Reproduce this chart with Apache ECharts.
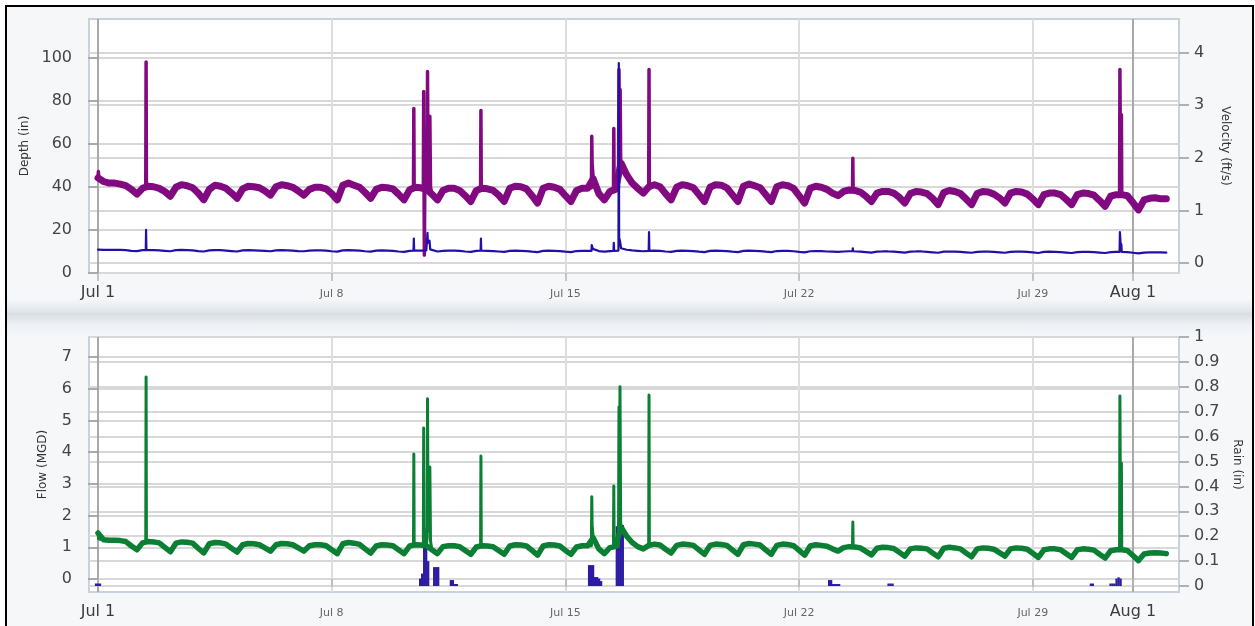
<!DOCTYPE html>
<html>
<head>
<meta charset="utf-8">
<script src="https://cdn.jsdelivr.net/npm/echarts@6/dist/echarts.min.js"></script>
<style>
  html, body { margin: 0; padding: 0; background: #fff; }
  #frame {
    position: absolute; left: 5px; top: 5px; width: 1245px; height: 640px;
    border: 2.5px solid #000;
    background: linear-gradient(to bottom, #f5f7f9 0px, #f5f7f9 292px, #e2e6eb 304px, #d9dee4 307px, #eef1f4 318px, #f5f7f9 330px);
  }
  #chart { position: absolute; left: 0; top: 0; width: 1255px; height: 626px; }
</style>
</head>
<body>
<div id="frame"></div>
<div id="chart"></div>
<script>
// x values are days after Jul 1 00:00, base series are sampled every 4 hours
var xTickDays = [0, 7, 14, 21, 28, 31];
var xTickLabels = ['Jul 1', 'Jul 8', 'Jul 15', 'Jul 22', 'Jul 29', 'Aug 1'];
var xTickMajor = [true, false, false, false, false, true];

var depthTicks = [0, 20, 40, 60, 80, 100];
var velocityTicks = [0, 1, 2, 3, 4];
var flowTicks = [0, 1, 2, 3, 4, 5, 6, 7];
var rainTicks = [0, 0.1, 0.2, 0.3, 0.4, 0.5, 0.6, 0.7, 0.8, 0.9, 1];

// velocity (ft/s), 6 readings per day
var velocityBase = [
  1.62,1.55,1.52,1.52,1.50,1.47,
  1.40,1.31,1.42,1.46,1.45,1.42,
  1.36,1.27,1.44,1.49,1.47,1.43,
  1.33,1.20,1.40,1.48,1.46,1.42,
  1.33,1.23,1.41,1.46,1.45,1.43,
  1.37,1.29,1.45,1.49,1.47,1.44,
  1.37,1.29,1.40,1.44,1.44,1.41,
  1.32,1.20,1.48,1.52,1.48,1.44,
  1.34,1.23,1.40,1.44,1.43,1.41,
  1.31,1.20,1.39,1.44,1.43,1.40,
  1.31,1.20,1.38,1.42,1.42,1.38,
  1.28,1.17,1.38,1.42,1.41,1.38,
  1.29,1.17,1.42,1.46,1.45,1.41,
  1.28,1.14,1.42,1.46,1.44,1.40,
  1.28,1.17,1.38,1.42,1.42,1.60,
  1.32,1.20,1.36,1.40,1.90,1.68,
  1.52,1.42,1.33,1.45,1.49,1.45,
  1.32,1.20,1.44,1.49,1.47,1.43,
  1.30,1.17,1.44,1.49,1.48,1.43,
  1.30,1.17,1.46,1.50,1.47,1.43,
  1.30,1.17,1.45,1.49,1.47,1.42,
  1.28,1.14,1.42,1.46,1.44,1.40,
  1.33,1.28,1.36,1.39,1.38,1.35,
  1.27,1.17,1.33,1.36,1.36,1.33,
  1.25,1.14,1.32,1.36,1.35,1.32,
  1.23,1.11,1.34,1.38,1.36,1.32,
  1.22,1.11,1.32,1.36,1.35,1.31,
  1.24,1.14,1.33,1.36,1.35,1.31,
  1.22,1.11,1.30,1.33,1.33,1.30,
  1.21,1.11,1.30,1.33,1.32,1.29,
  1.19,1.08,1.27,1.30,1.30,1.28,
  1.15,1.01,1.20,1.23,1.24,1.22,
  1.22
];
var velocitySpikes = [
  [0.01,1.74],[0.03,1.58],
  [1.43,1.46],[1.44,3.82],[1.45,1.46],
  [9.45,1.42],[9.46,2.94],[9.47,1.42],
  [9.745,1.42],[9.755,3.26],[9.765,1.6],[9.775,0.15],[9.79,1.5],
  [9.86,1.45],[9.87,3.64],[9.885,1.6],[9.93,1.55],[9.94,2.79],[9.96,1.45],
  [11.46,1.42],[11.47,2.9],[11.48,1.45],
  [14.78,1.43],[14.79,2.41],[14.80,1.9],
  [15.44,1.40],[15.45,2.56],[15.46,1.42],
  [15.59,1.42],[15.605,3.68],[15.62,2.4],[15.64,3.3],[15.655,2.0],
  [16.495,1.48],[16.505,3.68],[16.515,1.48],
  [22.60,1.38],[22.61,1.99],[22.62,1.38],
  [30.60,1.30],[30.61,3.68],[30.63,1.6],[30.655,2.82],[30.665,1.30]
];

// depth (in), 6 readings per day
var depthBase = [
  10.9,10.7,10.7,10.8,10.7,10.6,
  10.3,10.2,10.6,10.7,10.6,10.5,
  10.3,10.1,10.6,10.7,10.6,10.5,
  10.2,10.0,10.5,10.6,10.6,10.4,
  10.2,10.0,10.5,10.6,10.5,10.4,
  10.3,10.1,10.5,10.6,10.5,10.4,
  10.2,10.1,10.4,10.5,10.5,10.4,
  10.1,9.9,10.5,10.6,10.5,10.4,
  10.1,9.9,10.4,10.5,10.4,10.3,
  10.0,9.8,10.3,10.4,10.4,10.5,
  10.2,10.0,10.3,10.4,10.4,10.3,
  10.0,9.8,10.3,10.4,10.3,10.2,
  10.0,9.8,10.3,10.4,10.3,10.2,
  9.9,9.7,10.3,10.4,10.3,10.2,
  9.9,9.7,10.2,10.3,10.3,10.6,
  10.2,9.9,10.2,10.3,11.5,10.8,
  10.5,10.3,10.1,10.3,10.4,10.3,
  10.0,9.8,10.3,10.4,10.3,10.2,
  9.9,9.7,10.3,10.4,10.3,10.2,
  9.9,9.7,10.3,10.4,10.3,10.2,
  9.9,9.7,10.2,10.3,10.3,10.1,
  9.8,9.6,10.1,10.2,10.2,10.0,
  9.9,9.8,10.0,10.1,10.1,9.9,
  9.7,9.5,9.9,10.0,10.0,9.9,
  9.7,9.5,9.9,10.0,10.0,9.8,
  9.6,9.4,9.9,10.0,9.9,9.8,
  9.6,9.4,9.8,9.9,9.9,9.8,
  9.6,9.4,9.8,9.9,9.9,9.8,
  9.6,9.3,9.8,9.9,9.8,9.7,
  9.5,9.3,9.7,9.8,9.8,9.7,
  9.5,9.3,9.7,9.8,9.8,9.7,
  9.4,9.1,9.5,9.6,9.6,9.6,
  9.5
];
var depthSpikes = [
  [1.43,10.6],[1.44,20],[1.45,10.6],
  [9.45,10.4],[9.46,16],[9.47,10.4],
  [9.86,10.4],[9.87,18.6],[9.88,14],[9.93,15],[9.95,11],
  [11.46,10.4],[11.47,16],[11.48,10.4],
  [14.78,10.3],[14.79,13],[14.82,11.2],
  [15.44,10.3],[15.45,14],[15.46,10.3],
  [15.59,10.4],[15.60,97.5],[15.61,16.5],[15.64,14.5],
  [16.495,10.3],[16.505,19],[16.515,10.3],
  [22.60,10.1],[22.61,11.5],[22.62,10.1],
  [30.60,9.8],[30.61,19],[30.63,14],[30.655,13],[30.665,9.8]
];

// flow (MGD), 6 readings per day
var flowBase = [
  1.45,1.24,1.22,1.22,1.21,1.18,
  1.04,0.92,1.14,1.18,1.17,1.14,
  1.00,0.86,1.13,1.17,1.16,1.13,
  0.97,0.82,1.11,1.15,1.14,1.10,
  0.97,0.85,1.08,1.12,1.11,1.08,
  0.98,0.88,1.08,1.12,1.11,1.08,
  0.98,0.88,1.05,1.08,1.08,1.05,
  0.92,0.80,1.11,1.15,1.13,1.09,
  0.95,0.82,1.04,1.08,1.07,1.05,
  0.92,0.80,1.04,1.08,1.07,1.05,
  0.92,0.80,1.02,1.05,1.05,1.02,
  0.90,0.78,1.01,1.05,1.04,1.02,
  0.90,0.78,1.04,1.08,1.07,1.04,
  0.90,0.75,1.04,1.08,1.07,1.04,
  0.90,0.78,1.01,1.05,1.05,1.30,
  0.95,0.80,0.99,1.02,1.64,1.35,
  1.15,1.02,0.95,1.06,1.10,1.07,
  0.94,0.82,1.06,1.10,1.09,1.06,
  0.92,0.78,1.06,1.10,1.09,1.06,
  0.92,0.78,1.08,1.12,1.10,1.07,
  0.92,0.78,1.06,1.10,1.09,1.05,
  0.90,0.75,1.04,1.08,1.06,1.03,
  0.95,0.88,0.99,1.02,1.01,0.98,
  0.87,0.76,0.97,1.00,0.99,0.96,
  0.84,0.72,0.95,0.98,0.97,0.95,
  0.82,0.70,0.97,1.00,0.98,0.95,
  0.82,0.70,0.95,0.98,0.97,0.94,
  0.83,0.72,0.95,0.98,0.97,0.94,
  0.81,0.68,0.92,0.95,0.95,0.92,
  0.80,0.68,0.92,0.95,0.94,0.91,
  0.78,0.66,0.89,0.92,0.92,0.90,
  0.74,0.58,0.79,0.82,0.83,0.82,
  0.80
];
var flowSpikes = [
  [0.02,1.26],
  [1.43,1.18],[1.44,6.37],[1.45,1.18],
  [9.45,1.08],[9.46,3.94],[9.47,1.1],
  [9.745,1.08],[9.755,4.76],[9.765,1.6],[9.79,1.3],
  [9.86,1.3],[9.87,5.68],[9.885,2.0],[9.93,1.5],[9.94,3.53],[9.96,1.2],
  [11.46,1.05],[11.47,3.88],[11.48,1.08],
  [14.78,1.05],[14.79,2.59],[14.80,1.7],
  [15.44,1.02],[15.45,2.93],[15.46,1.04],
  [15.59,1.02],[15.605,5.42],[15.62,2.2],[15.635,6.06],[15.655,1.8],
  [16.495,1.10],[16.505,5.80],[16.515,1.10],
  [22.60,1.02],[22.61,1.80],[22.62,1.02],
  [30.60,0.92],[30.61,5.77],[30.63,1.2],[30.655,3.66],[30.665,0.92]
];

// rain (in)
var rainData = [
  [-0.06,0.01],[0.0,0.01],[0.06,0.01],
  [9.65,0.03],[9.71,0.05],[9.77,0.21],[9.83,0.21],[9.89,0.10],
  [10.07,0.076],[10.13,0.076],[10.19,0.076],
  [10.57,0.024],[10.63,0.024],[10.69,0.008],[10.75,0.008],
  [14.71,0.084],[14.77,0.084],[14.83,0.084],[14.89,0.036],[14.95,0.036],[15.01,0.03],[15.07,0.02],
  [15.54,0.24],[15.60,0.245],[15.66,0.245],[15.72,0.245],
  [21.90,0.024],[21.96,0.024],[22.02,0.008],[22.08,0.008],[22.14,0.008],[22.20,0.008],
  [23.68,0.01],[23.74,0.01],[23.80,0.01],
  [29.74,0.01],[29.80,0.01],
  [30.33,0.01],[30.39,0.01],[30.45,0.01],[30.51,0.03],[30.57,0.035],[30.63,0.03]
];

function buildSeries(base, spikes) {
  var pts = base.map(function (v, i) { return [i / 6, v]; });
  spikes.forEach(function (p) { pts.push(p); });
  pts.sort(function (a, b) { return a[0] - b[0]; });
  return pts;
}
function baseOnly(base) {
  return base.map(function (v, i) { return [i / 6, v]; });
}

var FONT = 'DejaVu Sans';

function xAxisFor(grid) {
  return {
    type: 'value', gridIndex: grid, min: -0.27, max: 32.38,
    axisLine: { show: false },
    axisTick: { show: true, length: 8, customValues: xTickDays, lineStyle: { color: '#b4b4b4', width: 1.5 } },
    axisLabel: {
      customValues: xTickDays, margin: 12,
      formatter: function (v) {
        var i = xTickDays.indexOf(v);
        if (i < 0) return '';
        return xTickMajor[i] ? '{big|' + xTickLabels[i] + '}' : '{small|' + xTickLabels[i] + '}';
      },
      rich: {
        big: { fontFamily: FONT, fontSize: 16, color: '#3c3c3c' },
        small: { fontFamily: FONT, fontSize: 11, color: '#666', padding: [4, 0, 0, 0] }
      }
    },
    splitLine: { show: true, lineStyle: { color: ['#a9a9a9', '#dedede', '#dedede', '#dedede', '#dedede', '#a9a9a9'], width: 2 } }
  };
}

function yAxisFor(grid, pos, min, max, ticks, name, gap, rotate) {
  return {
    type: 'value', gridIndex: grid, position: pos, min: min, max: max,
    name: name, nameLocation: 'middle', nameGap: gap, nameRotate: rotate,
    nameTextStyle: { fontFamily: FONT, fontSize: 12, color: '#333' },
    axisLine: { show: false },
    axisTick: { show: true, length: 10, customValues: ticks, lineStyle: { color: '#9a9a9a', width: 1.5 } },
    axisLabel: { customValues: ticks, margin: pos === 'left' ? 17 : 15, fontFamily: FONT, fontSize: 16, color: '#444' },
    splitLine: { show: true, lineStyle: { color: '#d8d8d8', width: 2 } }
  };
}

function line(name, xi, yi, data, color, width) {
  return {
    name: name, type: 'line', xAxisIndex: xi, yAxisIndex: yi, data: data,
    showSymbol: false, symbol: 'none', silent: true,
    lineStyle: { color: color, width: width, join: 'round', cap: 'round' }
  };
}

var chart = echarts.init(document.getElementById('chart'), null, { renderer: 'canvas' });
chart.setOption({
  animation: false,
  backgroundColor: 'transparent',
  grid: [
    { left: 89, right: 76, top: 19, height: 254, show: true, backgroundColor: '#fff', borderColor: '#c9d2dc', borderWidth: 2 },
    { left: 89, right: 76, top: 337, height: 255, show: true, backgroundColor: '#fff', borderColor: '#c9d2dc', borderWidth: 2 }
  ],
  xAxis: [xAxisFor(0), xAxisFor(1)],
  yAxis: [
    yAxisFor(0, 'left', 0, 118, depthTicks, 'Depth (in)', 58, 90),
    yAxisFor(0, 'right', -0.19, 4.64, velocityTicks, 'Velocity (ft/s)', 40, -90),
    yAxisFor(1, 'left', -0.41, 7.63, flowTicks, 'Flow (MGD)', 40, 90),
    yAxisFor(1, 'right', -0.024, 1, rainTicks, 'Rain (in)', 52, -90)
  ],
  series: [
    // noisy band of the readings, then the readings with their spikes on top
    line('Velocity band', 0, 1, baseOnly(velocityBase), '#820a80', 7),
    line('Velocity', 0, 1, buildSeries(velocityBase, velocitySpikes), '#820a80', 3.5),
    line('Depth', 0, 0, buildSeries(depthBase, depthSpikes), '#2010a8', 2.2),
    line('Flow band', 1, 2, baseOnly(flowBase), '#0b7f33', 5.5),
    line('Flow', 1, 2, buildSeries(flowBase, flowSpikes), '#0b7f33', 3),
    {
      name: 'Rain', type: 'bar', xAxisIndex: 1, yAxisIndex: 3,
      data: rainData, barWidth: 2.3,
      itemStyle: { color: '#2c1ca3' }
    }
  ]
});
</script>
</body>
</html>
